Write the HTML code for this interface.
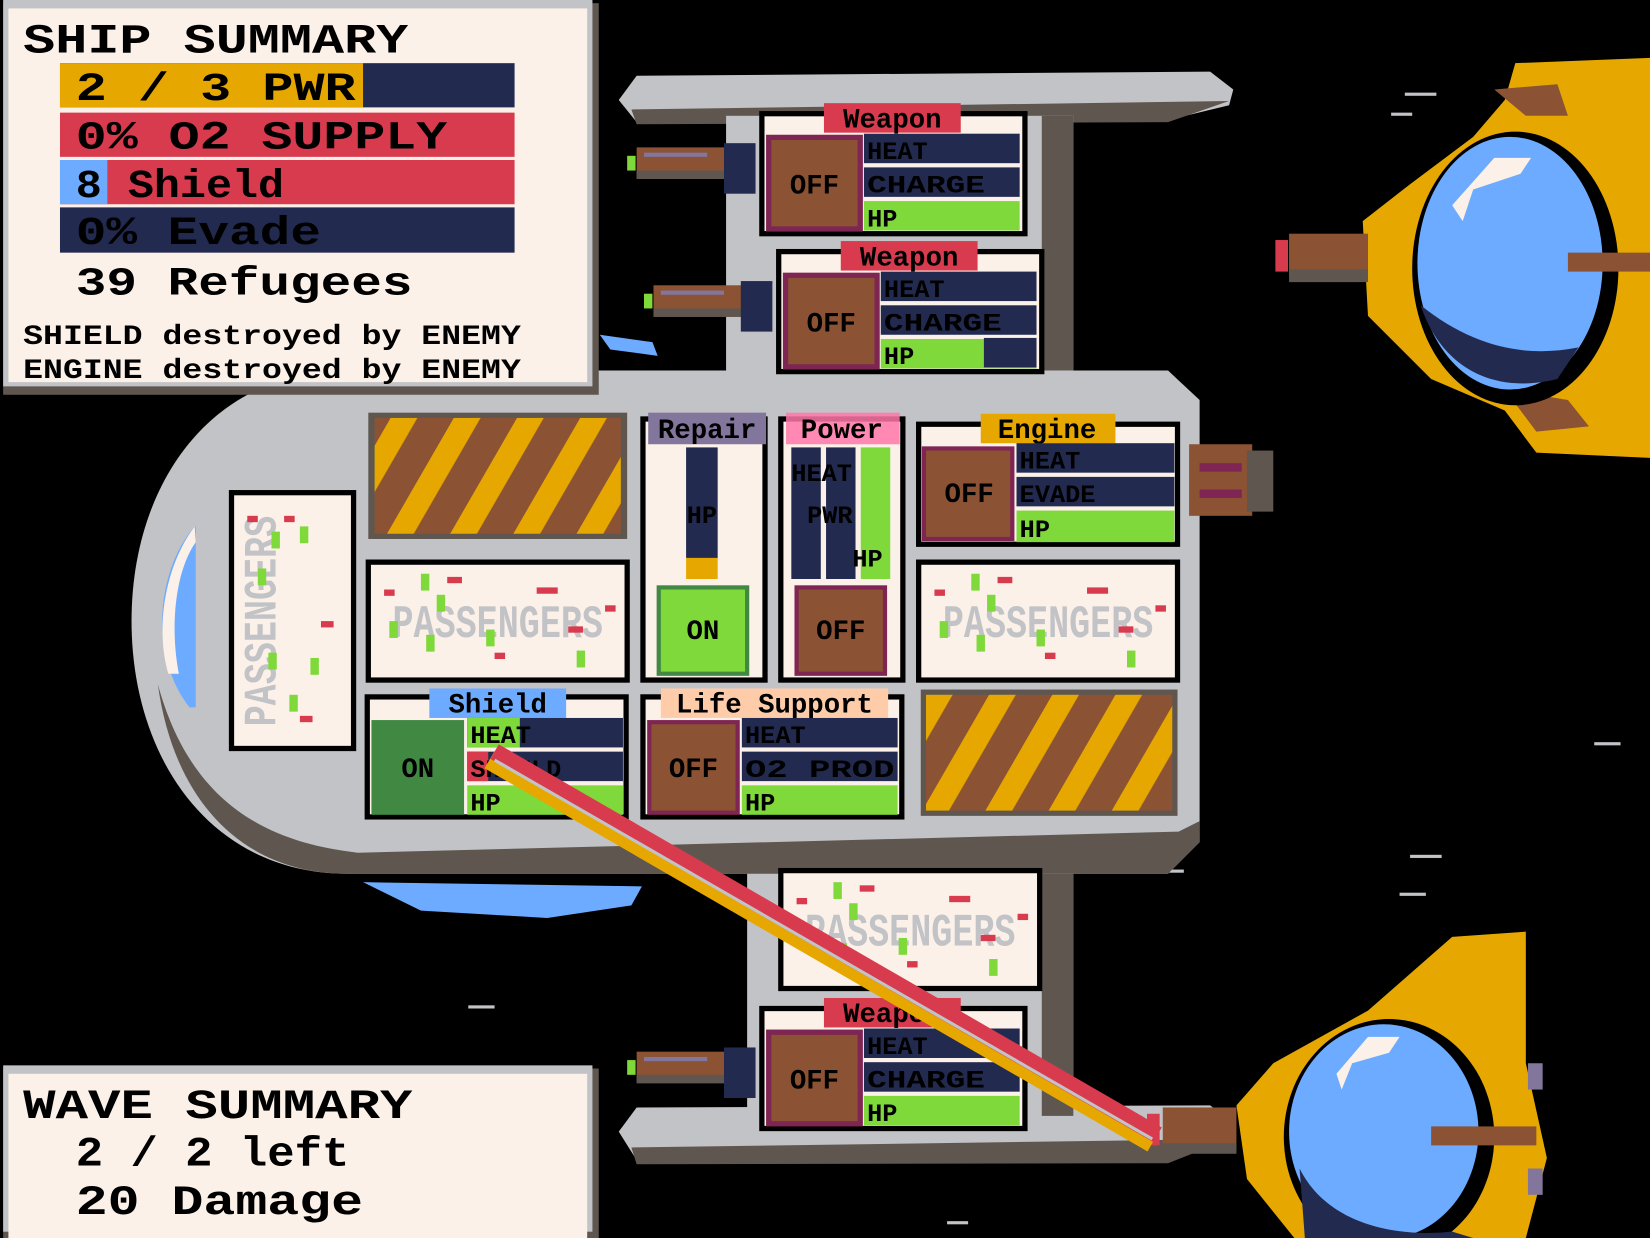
<!DOCTYPE html>
<html><head><meta charset="utf-8"><style>
html,body{margin:0;padding:0;background:#000;}
svg{display:block;}
text{font-family:"Liberation Mono","DejaVu Sans Mono",monospace;font-weight:bold;}
</style></head><body>
<svg width="1650" height="1238" viewBox="0 0 1568 1176" preserveAspectRatio="none" xmlns="http://www.w3.org/2000/svg">
<rect width="1568" height="1176" fill="#000"/>
<g fill="#c2c3c7"><rect x="1335" y="88" width="30" height="3"/><rect x="1322" y="107" width="20" height="3"/><rect x="1515" y="705" width="25" height="3"/><rect x="1340" y="812" width="30" height="3"/><rect x="1330" y="848" width="25" height="3"/><rect x="1090" y="826" width="35" height="3"/><rect x="445" y="955" width="25" height="3"/><rect x="900" y="1160" width="20" height="3"/></g>
<path d="M570 318 L620 325 L625 338 L580 332 Z" fill="#6cabff"/>
<path d="M345 838 L610 842 L600 860 L520 872 L400 865 Z" fill="#6cabff"/>
<!-- wings -->
<path d="M605 72 L1150 68 L1172 85 L1168 100 L1110 114 L605 116 L588 95 Z" fill="#c2c3c7"/>
<path d="M600 104 L1168 96 L1110 116 L605 118 Z" fill="#5f574f"/>
<path d="M605 1052 L1150 1050 L1170 1065 L1168 1085 L1110 1100 L605 1102 L588 1075 Z" fill="#c2c3c7"/>
<path d="M600 1090 L1168 1082 L1110 1105 L605 1106 Z" fill="#5f574f"/>
<rect x="690" y="110" width="330" height="260" fill="#c2c3c7"/>
<rect x="990" y="110" width="30" height="250" fill="#5f574f"/>
<rect x="710" y="800" width="310" height="260" fill="#c2c3c7"/>
<rect x="990" y="810" width="30" height="250" fill="#5f574f"/>
<path d="M330 352 L1110 352 L1140 380 L1140 800 L1110 830 L330 830 C200 830 125 720 125 590 C125 460 200 352 330 352 Z" fill="#c2c3c7"/>
<path d="M150 650 C180 760 250 800 340 810 L1120 790 L1140 780 L1140 800 L1110 830 L330 830 C230 830 165 760 150 650 Z" fill="#5f574f"/>
<path d="M185 500 C150 540 140 620 180 672 L186 672 L186 500 Z" fill="#6cabff"/>
<path d="M185 500 C155 540 148 600 160 640 L170 640 C162 600 165 545 186 515 Z" fill="#fbf1e8"/>
<g id="gun">
<rect x="605" y="140" width="85" height="30" fill="#8b5233"/>
<rect x="605" y="162" width="85" height="8" fill="#5f574f"/>
<rect x="612" y="145" width="60" height="4" fill="#83769c"/>
<rect x="688" y="136" width="30" height="48" fill="#222a50"/>
<rect x="596" y="148" width="8" height="14" fill="#7fd93a"/>
</g>
<use href="#gun" x="16" y="131"/>
<use href="#gun" x="0" y="859"/>
<rect x="1130" y="422" width="60" height="68" fill="#8b5233"/>
<rect x="1185" y="428" width="25" height="58" fill="#5f574f"/>
<rect x="1140" y="440" width="40" height="8" fill="#7e2553"/>
<rect x="1140" y="465" width="40" height="8" fill="#7e2553"/>
<defs>
<pattern id="hatch" patternUnits="userSpaceOnUse" width="52" height="52" patternTransform="rotate(30)">
<rect width="52" height="52" fill="#8b5233"/><rect width="22" height="52" fill="#e6a800"/>
</pattern>
</defs>
<rect x="350" y="392" width="246" height="120" fill="#5f574f"/>
<rect x="356" y="397" width="234" height="110" fill="url(#hatch)"/>
<rect x="875" y="655" width="244" height="120" fill="#5f574f"/>
<rect x="880" y="660" width="234" height="110" fill="url(#hatch)"/>
<g fill="#fbf1e8" stroke="#000" stroke-width="5">
<rect x="220" y="468" width="116" height="243"/>
<rect x="350" y="534" width="246" height="112"/>
<rect x="873" y="534" width="246" height="112"/>
<rect x="742" y="827" width="246" height="112"/>
</g>
<g fill="#c2c3c7" font-size="44" text-anchor="middle">
<text x="473" y="605" textLength="200" lengthAdjust="spacingAndGlyphs">PASSENGERS</text>
<text x="996" y="605" textLength="200" lengthAdjust="spacingAndGlyphs">PASSENGERS</text>
<text x="865" y="898" textLength="200" lengthAdjust="spacingAndGlyphs">PASSENGERS</text>
<text x="0" y="0" transform="translate(262 590) rotate(-90)" textLength="200" lengthAdjust="spacingAndGlyphs">PASSENGERS</text>
</g>
<g id="ppl">
<rect x="400" y="545" width="8" height="16" fill="#7fd93a"/><rect x="415" y="565" width="8" height="16" fill="#7fd93a"/>
<rect x="370" y="590" width="8" height="16" fill="#7fd93a"/><rect x="462" y="598" width="8" height="16" fill="#7fd93a"/>
<rect x="405" y="603" width="8" height="16" fill="#7fd93a"/><rect x="548" y="618" width="8" height="16" fill="#7fd93a"/>
<rect x="425" y="548" width="14" height="6" fill="#d83a4e"/><rect x="510" y="558" width="20" height="6" fill="#d83a4e"/>
<rect x="365" y="560" width="10" height="6" fill="#d83a4e"/><rect x="540" y="595" width="14" height="6" fill="#d83a4e"/>
<rect x="575" y="575" width="10" height="6" fill="#d83a4e"/><rect x="470" y="620" width="10" height="6" fill="#d83a4e"/>
</g>
<use href="#ppl" x="523" y="0"/>
<use href="#ppl" x="392" y="293"/>
<g fill="#7fd93a"><rect x="258" y="505" width="8" height="16"/><rect x="245" y="540" width="8" height="16"/><rect x="255" y="620" width="8" height="16"/><rect x="275" y="660" width="8" height="16"/><rect x="295" y="625" width="8" height="16"/><rect x="285" y="500" width="8" height="16"/></g>
<g fill="#d83a4e"><rect x="235" y="490" width="10" height="6"/><rect x="305" y="590" width="12" height="6"/><rect x="285" y="680" width="12" height="6"/><rect x="270" y="490" width="10" height="6"/></g>
<g id="weap">
<rect x="724" y="108" width="250" height="114" fill="#fbf1e8" stroke="#000" stroke-width="5"/>
<rect x="728" y="128" width="92" height="92" fill="#7e2553"/>
<rect x="733" y="133" width="82" height="82" fill="#8b5233"/>
<text x="774" y="184" font-size="26" text-anchor="middle" fill="#000">OFF</text>
<rect x="821" y="127" width="148" height="28" fill="#222a50"/>
<rect x="821" y="159" width="148" height="28" fill="#222a50"/>
<rect x="821" y="191" width="148" height="28" fill="#7fd93a"/>
<text x="824" y="151" font-size="24" fill="#000">HEAT</text>
<text x="824" y="183" font-size="24" fill="#000" textLength="112" lengthAdjust="spacingAndGlyphs">CHARGE</text>
<text x="824" y="215" font-size="24" fill="#000">HP</text>
<rect x="783" y="98" width="130" height="28" fill="#d83a4e"/>
<text x="848" y="121" font-size="26" text-anchor="middle" fill="#000">Weapon</text>
</g>
<use href="#weap" x="16" y="131"/>
<use href="#weap" x="0" y="850"/>
<rect x="935" y="321" width="50" height="28" fill="#222a50"/>
<rect x="611" y="398" width="116" height="248" fill="#fbf1e8" stroke="#000" stroke-width="5"/>
<rect x="616" y="392" width="112" height="30" fill="#83769c"/>
<text x="672" y="416" font-size="26" text-anchor="middle" fill="#000">Repair</text>
<rect x="652" y="425" width="30" height="105" fill="#222a50"/>
<rect x="652" y="530" width="30" height="20" fill="#e6a800"/>
<text x="667" y="497" font-size="24" text-anchor="middle" fill="#000">HP</text>
<rect x="624" y="556" width="88" height="86" fill="#418843"/>
<rect x="628" y="560" width="80" height="78" fill="#7fd93a"/>
<text x="668" y="607" font-size="26" text-anchor="middle" fill="#000">ON</text>
<rect x="742" y="398" width="116" height="248" fill="#fbf1e8" stroke="#000" stroke-width="5"/>
<rect x="747" y="392" width="108" height="30" fill="#ff77a8" opacity="0.85"/>
<text x="800" y="416" font-size="26" text-anchor="middle" fill="#000">Power</text>
<rect x="752" y="425" width="28" height="125" fill="#222a50"/>
<rect x="785" y="425" width="28" height="125" fill="#222a50"/>
<rect x="818" y="425" width="28" height="125" fill="#7fd93a"/>
<text x="752" y="457" font-size="24" fill="#000">HEAT</text>
<text x="767" y="497" font-size="24" fill="#000">PWR</text>
<text x="810" y="538" font-size="24" fill="#000">HP</text>
<rect x="755" y="556" width="88" height="86" fill="#7e2553"/>
<rect x="759" y="560" width="80" height="78" fill="#8b5233"/>
<text x="799" y="607" font-size="26" text-anchor="middle" fill="#000">OFF</text>
<rect x="873" y="403" width="246" height="114" fill="#fbf1e8" stroke="#000" stroke-width="5"/>
<rect x="932" y="393" width="128" height="28" fill="#e6a800"/>
<text x="995" y="416" font-size="26" text-anchor="middle" fill="#000">Engine</text>
<rect x="876" y="424" width="88" height="90" fill="#7e2553"/>
<rect x="880" y="428" width="80" height="82" fill="#8b5233"/>
<text x="921" y="477" font-size="26" text-anchor="middle" fill="#000">OFF</text>
<rect x="966" y="421" width="150" height="28" fill="#222a50"/>
<rect x="966" y="453" width="150" height="28" fill="#222a50"/>
<rect x="966" y="485" width="150" height="30" fill="#7fd93a"/>
<text x="969" y="445" font-size="24" fill="#000">HEAT</text>
<text x="969" y="477" font-size="24" fill="#000">EVADE</text>
<text x="969" y="510" font-size="24" fill="#000">HP</text>
<rect x="349" y="662" width="246" height="114" fill="#fbf1e8" stroke="#000" stroke-width="5"/>
<rect x="408" y="654" width="130" height="28" fill="#6cabff"/>
<text x="473" y="677" font-size="26" text-anchor="middle" fill="#000">Shield</text>
<rect x="353" y="684" width="88" height="90" fill="#418843"/>
<text x="397" y="738" font-size="26" text-anchor="middle" fill="#000">ON</text>
<rect x="444" y="682" width="148" height="28" fill="#222a50"/><rect x="444" y="682" width="50" height="28" fill="#7fd93a"/>
<rect x="444" y="714" width="148" height="28" fill="#222a50"/><rect x="444" y="714" width="20" height="28" fill="#d83a4e"/>
<rect x="444" y="746" width="148" height="28" fill="#7fd93a"/>
<text x="447" y="706" font-size="24" fill="#000">HEAT</text>
<text x="447" y="738" font-size="24" fill="#000">SHIELD</text>
<text x="447" y="770" font-size="24" fill="#000">HP</text>
<rect x="611" y="662" width="246" height="114" fill="#fbf1e8" stroke="#000" stroke-width="5"/>
<rect x="628" y="654" width="216" height="28" fill="#ffccaa"/>
<text x="736" y="677" font-size="26" text-anchor="middle" fill="#000">Life Support</text>
<rect x="615" y="684" width="88" height="90" fill="#7e2553"/>
<rect x="619" y="688" width="80" height="82" fill="#8b5233"/>
<text x="659" y="738" font-size="26" text-anchor="middle" fill="#000">OFF</text>
<rect x="705" y="682" width="148" height="28" fill="#222a50"/>
<rect x="705" y="714" width="148" height="28" fill="#222a50"/>
<rect x="705" y="746" width="148" height="28" fill="#7fd93a"/>
<text x="708" y="706" font-size="24" fill="#000">HEAT</text>
<text x="708" y="738" font-size="24" fill="#000" textLength="142" lengthAdjust="spacingAndGlyphs">O2 PROD</text>
<text x="708" y="770" font-size="24" fill="#000">HP</text>
<!-- enemy top -->
<path d="M1440 60 L1568 55 L1568 435 L1460 430 L1430 390 L1360 360 L1300 300 L1295 210 L1340 175 L1400 130 L1430 95 Z" fill="#e6a800"/>
<path d="M1420 85 L1480 80 L1490 110 L1450 110 Z M1430 370 L1490 380 L1510 405 L1460 410 Z" fill="#8b5233"/>
<ellipse cx="1440" cy="255" rx="98" ry="130" fill="#000"/>
<ellipse cx="1435" cy="250" rx="88" ry="120" fill="#6cabff"/>
<path d="M1350 290 C1370 350 1420 375 1480 360 L1500 330 C1450 340 1400 330 1350 290 Z" fill="#222a50"/>
<path d="M1380 195 L1420 150 L1455 150 L1445 165 L1400 180 L1390 210 Z" fill="#fbf1e8"/>
<rect x="1490" y="240" width="78" height="18" fill="#8b5233"/>
<rect x="1225" y="222" width="75" height="40" fill="#8b5233"/>
<rect x="1225" y="256" width="75" height="12" fill="#5f574f"/>
<rect x="1212" y="228" width="12" height="30" fill="#d83a4e"/>
<!-- enemy bottom -->
<path d="M1380 890 L1450 885 L1450 1010 L1470 1100 L1450 1176 L1230 1176 L1185 1120 L1175 1050 L1210 1010 L1300 960 Z" fill="#e6a800"/>
<ellipse cx="1320" cy="1080" rx="100" ry="112" fill="#000"/>
<ellipse cx="1315" cy="1075" rx="90" ry="102" fill="#6cabff"/>
<path d="M1235 1110 C1260 1160 1320 1176 1380 1170 L1400 1176 L1240 1176 Z" fill="#222a50"/>
<path d="M1270 1020 L1300 985 L1330 985 L1320 1000 L1285 1010 L1275 1035 Z" fill="#fbf1e8"/>
<rect x="1360" y="1070" width="100" height="18" fill="#8b5233"/>
<rect x="1105" y="1052" width="70" height="40" fill="#8b5233"/>
<rect x="1105" y="1086" width="70" height="10" fill="#5f574f"/>
<rect x="1090" y="1058" width="12" height="30" fill="#d83a4e"/>
<rect x="1452" y="1010" width="14" height="25" fill="#83769c"/><rect x="1452" y="1110" width="14" height="25" fill="#83769c"/>
<!-- laser -->
<line x1="465" y1="722" x2="1095" y2="1086" stroke="#e6a800" stroke-width="18"/>
<line x1="470" y1="714" x2="1100" y2="1078" stroke="#d83a4e" stroke-width="16"/>
<line x1="470" y1="722" x2="1095" y2="1082" stroke="#c2c3c7" stroke-width="3"/>
<!-- Ship summary -->
<rect x="3" y="3" width="566" height="372" fill="#5f574f"/>
<rect x="3" y="0" width="560" height="367" fill="#c2c3c7"/>
<rect x="8" y="8" width="550" height="355" fill="#fbf1e8"/>
<text x="22" y="50" font-size="40" fill="#000" textLength="366" lengthAdjust="spacingAndGlyphs">SHIP SUMMARY</text>
<rect x="57" y="60" width="432" height="42" fill="#222a50"/><rect x="57" y="60" width="288" height="42" fill="#e6a800"/>
<rect x="57" y="107" width="432" height="42" fill="#d83a4e"/>
<rect x="57" y="152" width="432" height="42" fill="#d83a4e"/><rect x="57" y="152" width="45" height="42" fill="#6cabff"/>
<rect x="57" y="197" width="432" height="43" fill="#222a50"/>
<text x="72" y="95" font-size="38" fill="#000" textLength="266" lengthAdjust="spacingAndGlyphs">2 / 3 PWR</text>
<text x="72" y="141" font-size="38" fill="#000" textLength="353" lengthAdjust="spacingAndGlyphs">0% O2 SUPPLY</text>
<text x="72" y="187" font-size="38" fill="#000" textLength="198" lengthAdjust="spacingAndGlyphs">8 Shield</text>
<text x="72" y="232" font-size="38" fill="#000" textLength="233" lengthAdjust="spacingAndGlyphs">0% Evade</text>
<text x="72" y="280" font-size="38" fill="#000" textLength="320" lengthAdjust="spacingAndGlyphs">39 Refugees</text>
<text x="22" y="327" font-size="26" fill="#000" textLength="473" lengthAdjust="spacingAndGlyphs">SHIELD destroyed by ENEMY</text>
<text x="22" y="359" font-size="26" fill="#000" textLength="473" lengthAdjust="spacingAndGlyphs">ENGINE destroyed by ENEMY</text>
<!-- Wave summary -->
<rect x="3" y="1015" width="566" height="161" fill="#5f574f"/>
<rect x="3" y="1012" width="560" height="158" fill="#c2c3c7"/>
<rect x="8" y="1020" width="550" height="156" fill="#fbf1e8"/>
<text x="22" y="1062" font-size="40" fill="#000" textLength="370" lengthAdjust="spacingAndGlyphs">WAVE SUMMARY</text>
<text x="72" y="1107" font-size="40" fill="#000" textLength="260" lengthAdjust="spacingAndGlyphs">2 / 2 left</text>
<text x="72" y="1153" font-size="40" fill="#000" textLength="273" lengthAdjust="spacingAndGlyphs">20 Damage</text>
</svg>
</body></html>
